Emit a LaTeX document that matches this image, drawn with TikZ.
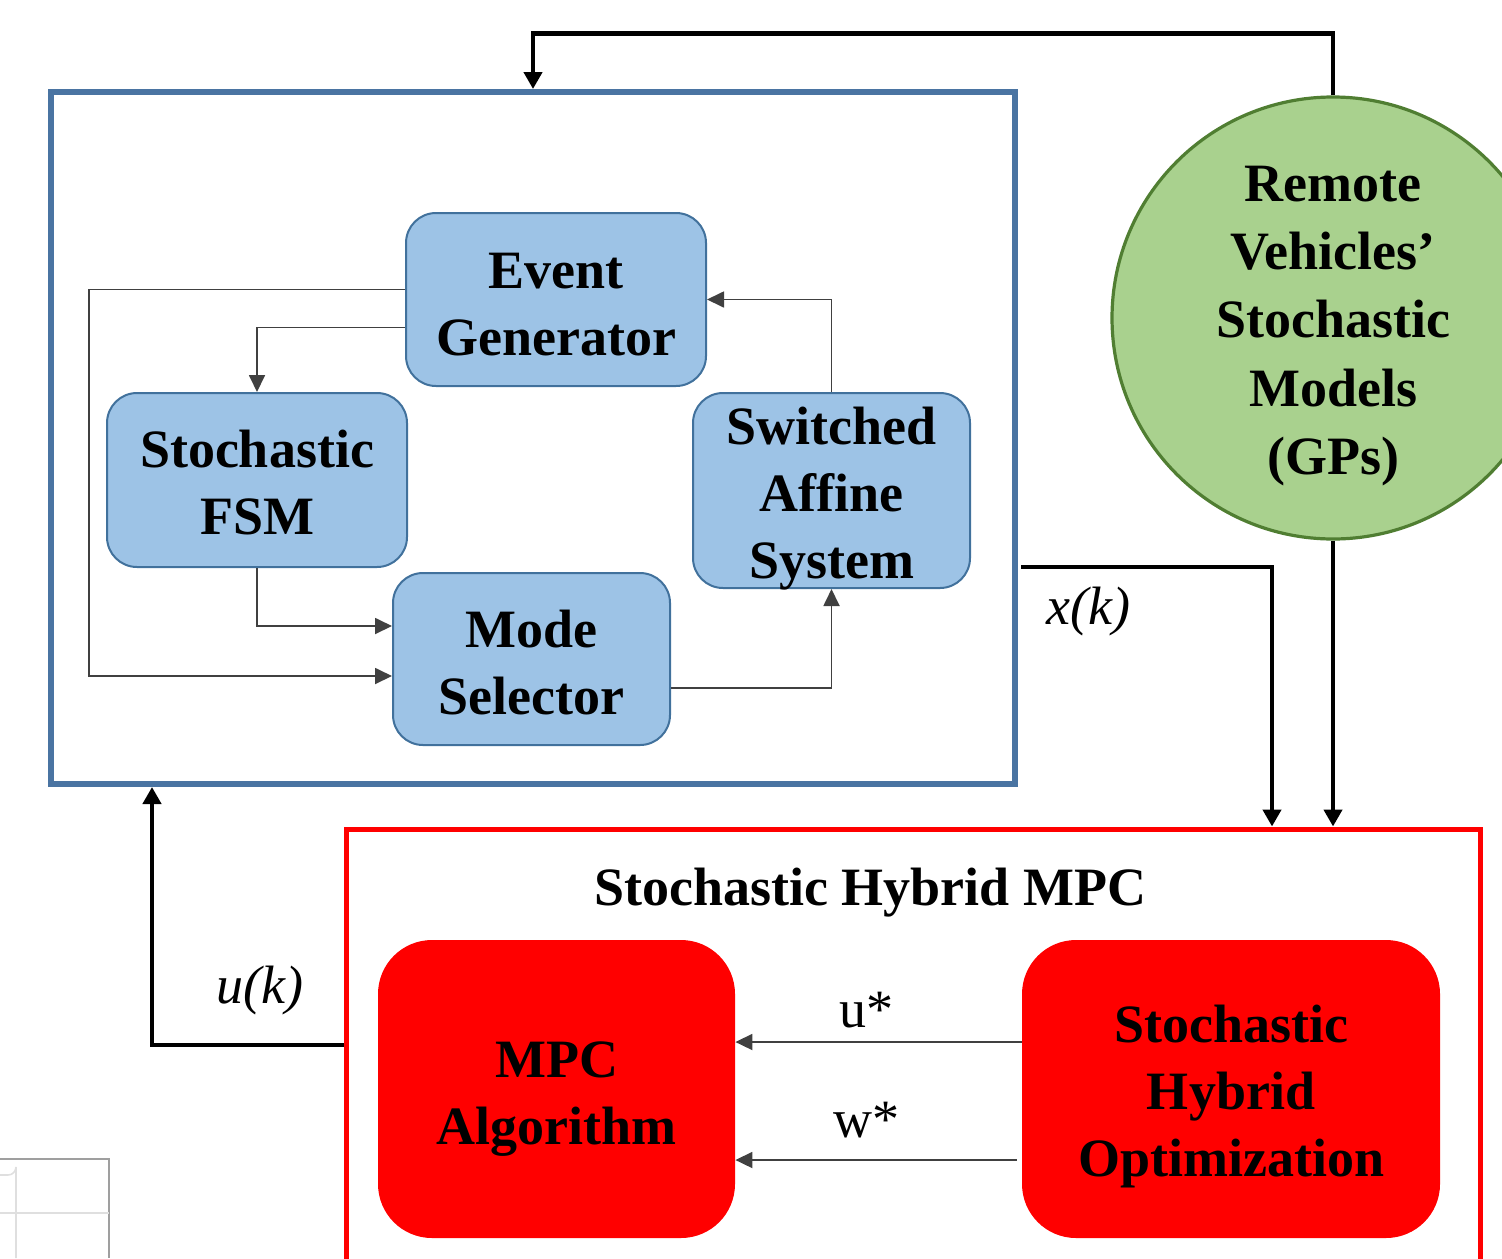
\documentclass[tikz,border=0pt]{standalone}
\usepackage{fontspec}
\setmainfont{Liberation Serif}
\usetikzlibrary{arrows.meta,calc}

\definecolor{frameblue}{HTML}{4A74A2}
\definecolor{boxblue}{HTML}{9DC3E6}
\definecolor{edgeblue}{HTML}{41719C}
\definecolor{gpgreen}{HTML}{A9D18E}
\definecolor{gpedge}{HTML}{507E32}
\definecolor{ctrlred}{HTML}{FF0000}
\definecolor{thinline}{HTML}{404040}

\tikzset{
  txt/.style={font=\fontsize{27}{33.5}\selectfont\bfseries, align=center, text=black},
  blk/.style={draw=edgeblue, fill=boxblue, line width=1pt, rounded corners=15pt, inner sep=0pt},
  redblk/.style={fill=ctrlred, draw=none, rounded corners=27pt, inner sep=0pt},
  inside/.style 2 args={label={[txt, yshift=#1]center:{#2}}},
  thinarrow/.style={draw=thinline, line width=0.9pt, -{Triangle[length=8.5pt,width=8pt]}},
  bigarrow/.style={draw=black, line width=2.3pt, -{Triangle[length=8.5pt,width=9pt]}},
  siglabel/.style={font=\fontsize{27}{33.5}\selectfont\itshape},
  optlabel/.style={font=\fontsize{27}{33.5}\selectfont},
}

\begin{document}
\begin{tikzpicture}[x=0.5pt, y=-0.5pt]
\useasboundingbox (0,0) rectangle (1502,1258);

% plant frame and its blocks
\node[draw=frameblue, line width=3pt, minimum width=482pt, minimum height=346pt, inner sep=0pt] (plant) at (533,438) {};
\node[blk, minimum width=150pt, minimum height=86.5pt, inside={-2.5pt}{Event\\Generator}] (evt) at (556,299.5) {};
\node[blk, minimum width=150pt, minimum height=87pt, inside={-1.5pt}{Stochastic\\FSM}] (fsm) at (257,480) {};
\node[blk, minimum width=138.5pt, minimum height=97.5pt, inside={-4pt}{Switched\\Affine\\System}] (sas) at (831.5,490.5) {};
\node[blk, minimum width=138.5pt, minimum height=86pt, inside={-2pt}{Mode\\Selector}] (mode) at (531.5,659) {};

% remote vehicle models
\node[circle, draw=gpedge, fill=gpgreen, line width=1.6pt, minimum size=221pt, inner sep=0pt,
  label={[txt, font=\fontsize{27}{34.2}\selectfont\bfseries, yshift=-4pt]center:{Remote\\Vehicles’\\Stochastic\\Models\\(GPs)}}] (gp) at (1333,318) {};

% controller frame and its blocks
\node[draw=ctrlred, line width=2.5pt, minimum width=567pt, minimum height=250pt, inner sep=0pt] (ctrl) at (913,1079) {};
\node[txt] (title) at (870,893) {Stochastic Hybrid MPC};
\node[redblk, minimum width=178.5pt, minimum height=149pt, inside={-5pt}{MPC\\Algorithm}] (mpc) at (556.5,1089) {};
\node[redblk, minimum width=209pt, minimum height=149pt, inside={-3.5pt}{Stochastic\\Hybrid\\Optimization}] (sho) at (1231,1089) {};

% internal switching logic
\draw[thinarrow] ($(evt.west)+(0,-10)$) -- ++(-316,0) |- ($(mode.west)+(0,17)$);
\draw[thinarrow] ($(evt.west)+(0,28)$) -| (fsm.north);
\draw[thinarrow] (fsm.south) |- ($(mode.west)+(0,-33)$);
\draw[thinarrow] ($(mode.east)+(0,29)$) -| (sas.south);
\draw[thinarrow] (sas.north) |- (evt.east);

% optimiser outputs
\draw[thinarrow] ($(sho.west)+(0,-47)$) -- ($(mpc.east)+(0,-47)$);
\draw[thinarrow] ($(sho.west)+(-5,71)$) -- ($(mpc.east)+(0,71)$);
\node[optlabel] (ustar) at (866,1010) {u*};
\node[optlabel] (wstar) at (866,1120) {w*};

% loop signals
\draw[bigarrow] (gp.north) -- ++(0,-62) -| (plant.north);
\draw[bigarrow] ($(plant.east)+(3,129)$) -| ($(ctrl.north)+(359,0)$);
\draw[bigarrow] (gp.south) -- (gp.south |- ctrl.north);
\draw[bigarrow] ($(ctrl.west)+(0,-34)$) -| ($(plant.south)+(-381,0)$);
\node[siglabel] (xk) at (1088,612) {x(k)};
\node[siglabel] (uk) at (260,990) {u(k)};

% small table fragment in the lower left corner
\draw[gray!75, line width=0.8pt] (0,1159) -- (109,1159) -- (109,1258);
\draw[gray!25, line width=0.8pt] (0,1213) -- (109,1213);
\draw[gray!25, line width=0.8pt] (0,1175) -- (8,1175) arc[start angle=90, end angle=0, radius=8] -- (16,1258);
\end{tikzpicture}
\end{document}
